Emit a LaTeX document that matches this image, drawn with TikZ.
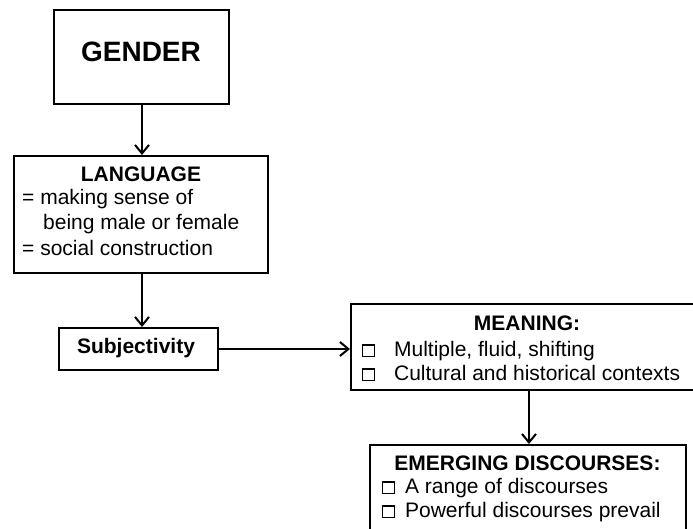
\documentclass[tikz,border=0pt]{standalone}
\usepackage{fontspec}
\setmainfont{Liberation Sans}
\usetikzlibrary{arrows.meta}
\newcommand{\chk}{{\setlength{\fboxrule}{1.2pt}\setlength{\fboxsep}{0pt}\fbox{\rule{0pt}{10.5pt}\hspace{10.5pt}}}}
\tikzset{
  boxnode/.style={draw, line width=2pt, rectangle, inner sep=0pt},
  txt/.style={inner sep=0pt, font=\fontsize{21}{24}\selectfont},
  ttl/.style={inner sep=0pt, anchor=base, font=\fontsize{21}{24}\selectfont\bfseries},
  conn/.style={line width=2pt, -{Straight Barb[length=8.5pt,width=14pt,line width=2pt]}}
}
\begin{document}
\begin{tikzpicture}[x=1pt,y=1pt]
\useasboundingbox (0,0) rectangle (693,-529);
\clip (0,0) rectangle (693,-529);
% boxes
\node[boxnode, minimum width=175, minimum height=94, anchor=north west] (gender) at (53,-9) {};
\node[boxnode, minimum width=254, minimum height=117, anchor=north west] (language) at (13,-155) {};
\node[boxnode, minimum width=159, minimum height=42, anchor=north west] (subj) at (58,-327) {};
\node[boxnode, minimum width=360, minimum height=86, anchor=north west] (meaning) at (350,-303) {};
\node[boxnode, minimum width=316, minimum height=110, anchor=north west] (emerg) at (369,-444) {};
% texts
\node[ttl, font=\fontsize{28}{32}\selectfont\bfseries] (tgender) at (141,-62) {GENDER};
\node[ttl] (tlang) at (141,-182) {LANGUAGE};
\node[txt, anchor=base west] (l1) at (22,-205) {= making sense of};
\node[txt, anchor=base west] (l2) at (43,-230) {being male or female};
\node[txt, anchor=base west] (l3) at (22,-256) {= social construction};
\node[ttl] (tsubj) at (136,-353) {Subjectivity};
\node[ttl] (tmean) at (527,-330) {MEANING:};
\node[txt, anchor=base west] (m1) at (362,-356) {\chk\hspace{19pt}Multiple, fluid, shifting};
\node[txt, anchor=base west] (m2) at (362,-380) {\chk\hspace{19pt}Cultural and historical contexts};
\node[ttl] (temerg) at (527.5,-470) {EMERGING DISCOURSES:};
\node[txt, anchor=base west] (e1) at (382,-493) {\chk\hspace{10pt}A range of discourses};
\node[txt, anchor=base west] (e2) at (382,-517) {\chk\hspace{10pt}Powerful discourses prevail};
% connectors
\coordinate (g1) at (142,-103);
\coordinate (g2) at (142,-155);
\draw[conn] (g1) -- (g2);
\coordinate (la1) at (142,-272);
\coordinate (la2) at (142,-327);
\draw[conn] (la1) -- (la2);
\draw[conn] (subj.east) -- (subj.east -| meaning.west);
\coordinate (me1) at (529,-389);
\coordinate (me2) at (529,-444);
\draw[conn] (me1) -- (me2);
\end{tikzpicture}
\end{document}
